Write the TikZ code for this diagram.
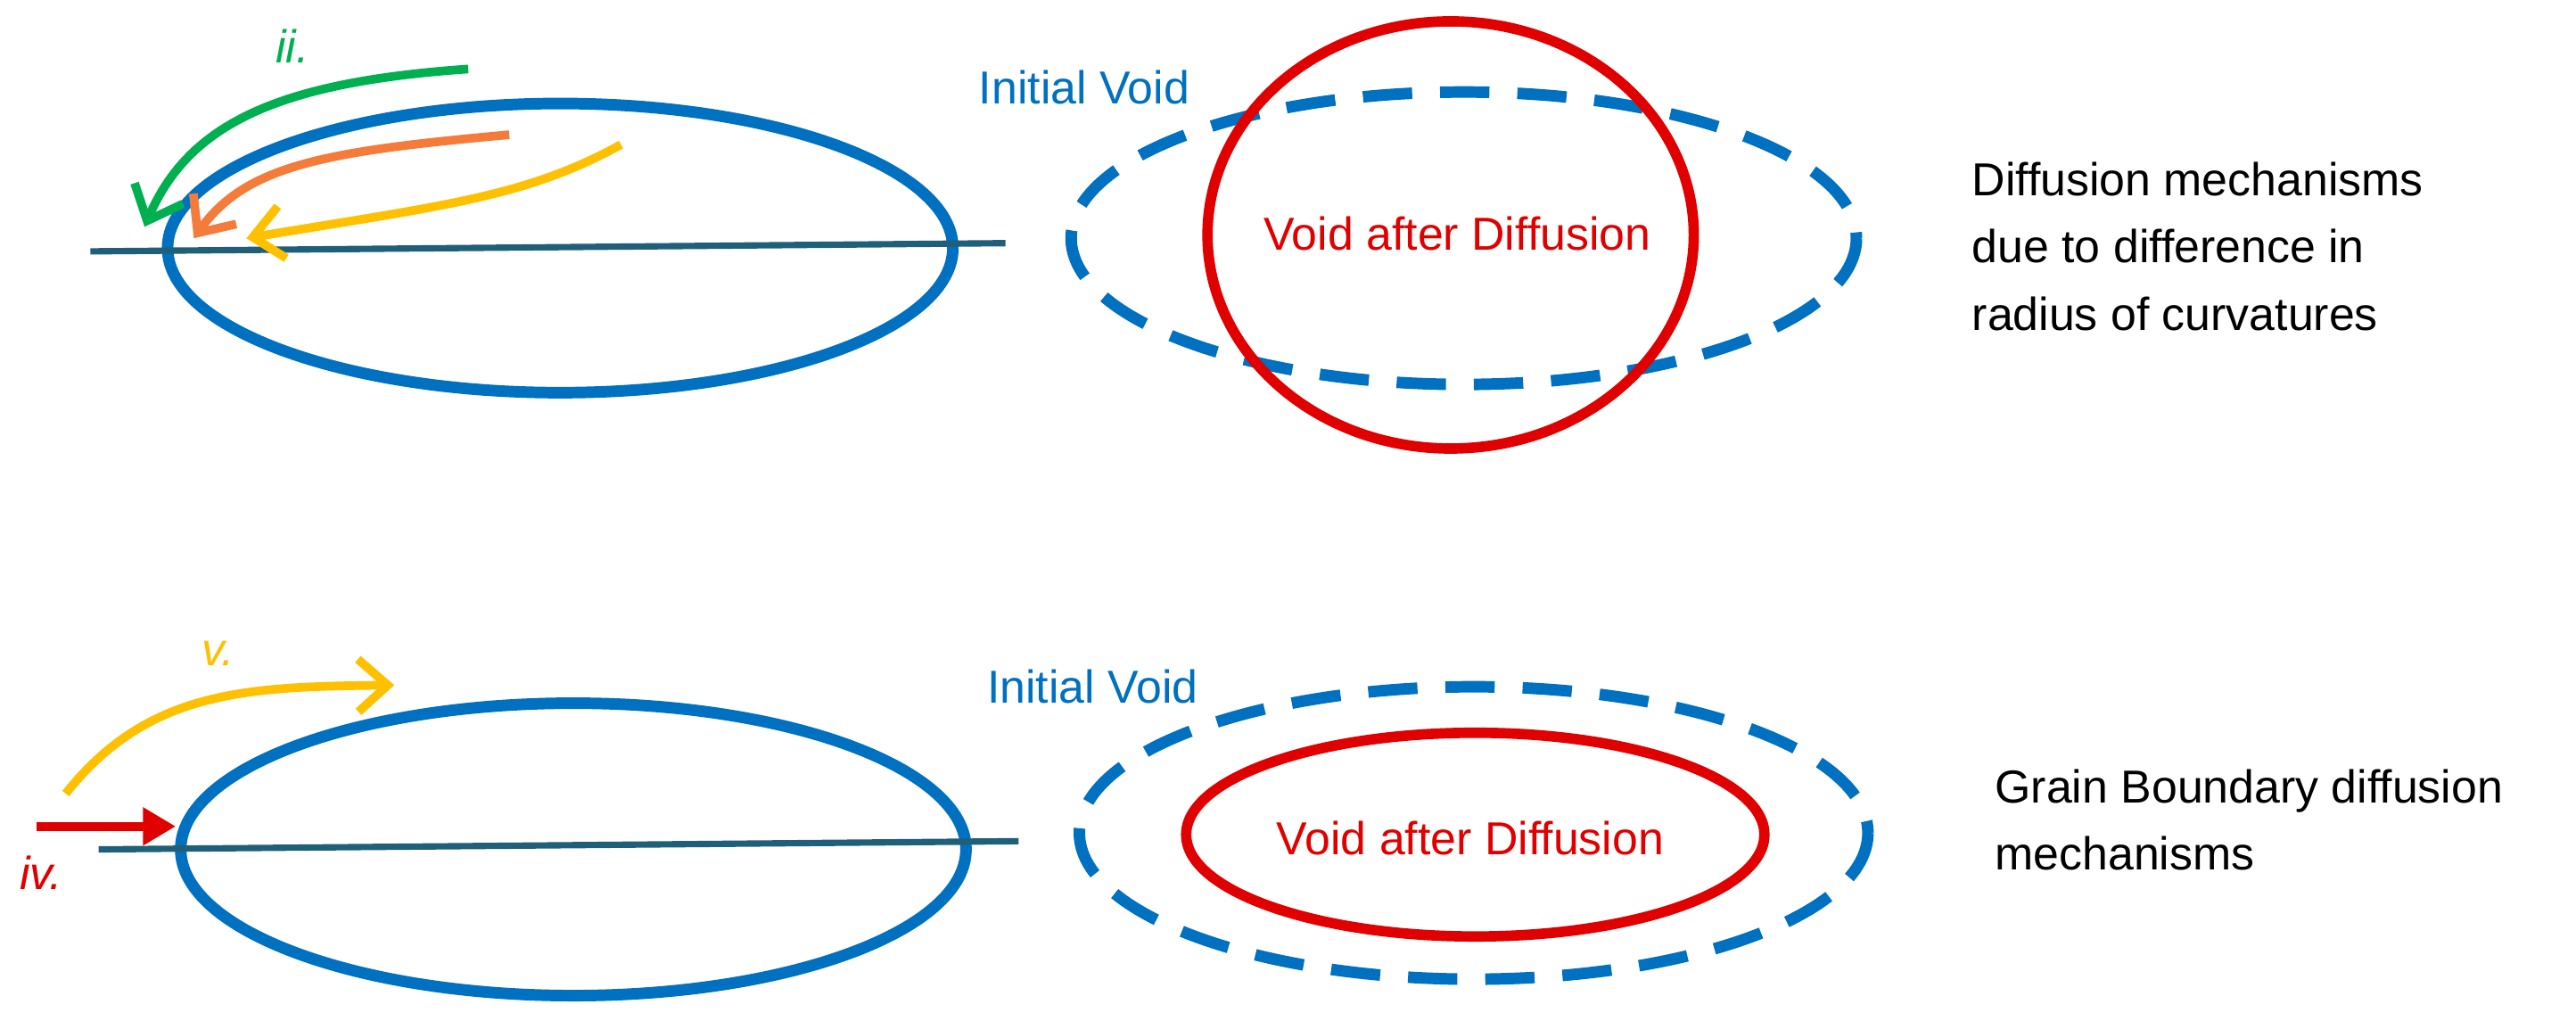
\documentclass[tikz,border=0pt]{standalone}
\usepackage{fontspec}
\setmainfont{Liberation Sans}
\usetikzlibrary{arrows.meta}
\definecolor{voidblue}{HTML}{0070C0}
\definecolor{gbteal}{HTML}{1F5F7A}
\definecolor{voidred}{HTML}{E00000}
\definecolor{mgreen}{HTML}{00B050}
\definecolor{morange}{HTML}{F47B3A}
\definecolor{myellow}{HTML}{FFC000}
\tikzset{
  void/.style={voidblue, line width=2pt},
  initvoid/.style={voidblue, line width=2pt, dash pattern=on 0.3cm off 0.17cm},
  gb/.style={gbteal, line width=1.1pt},
  flow/.style={line width=1.5pt, -{Straight Barb[length=1.8mm, width=3.2mm]}},
  lbl/.style={font=\fontsize{8}{9.6}\selectfont}
}
\begin{document}
\begin{tikzpicture}[x=0.01cm, y=-0.01cm]
\useasboundingbox (0,0) rectangle (1568,621);

% top row
\draw[void] (341,151) ellipse [x radius=239, y radius=88];
\draw[gb] (55,153) -- (612,148);
\draw[initvoid] (891,145) ellipse [x radius=239, y radius=89];
\draw[voidred, line width=1.8pt] (883,143) ellipse [x radius=148, y radius=130];

\node[lbl, voidblue] (iv1) at (660,53) {Initial Void};
\node[lbl, voidred] (vd1) at (887,142) {Void after Diffusion};
\node[lbl, mgreen, font=\fontsize{8}{9.6}\selectfont\itshape] (ii) at (178,28) {ii.};
\node[lbl, anchor=west, align=left] (t1) at (1188,150) {Diffusion mechanisms\\[2pt]due to difference in\\[2pt]radius of curvatures};

\coordinate (g0) at (285,42);  \coordinate (g1) at (88,138);
\coordinate (o0) at (310,82);  \coordinate (o1) at (118,145);
\coordinate (y0) at (378,88);  \coordinate (y1) at (150,145);
\draw[flow, mgreen] (g0) .. controls (170,50) and (115,75) .. (g1);
\draw[flow, morange] (o0) .. controls (200,92) and (150,100) .. (o1);
\draw[flow, myellow] (y0) .. controls (320,120) and (270,125) .. (y1);

% bottom row
\draw[void] (349,517) ellipse [x radius=239, y radius=89];
\draw[gb] (60,517) -- (620,512);
\draw[initvoid] (897,507) ellipse [x radius=240, y radius=89];
\draw[voidred, line width=1.8pt] (898,508) ellipse [x radius=176, y radius=62];

\node[lbl, voidblue] (iv2) at (665,418) {Initial Void};
\node[lbl, voidred] (vd2) at (895,510) {Void after Diffusion};
\node[lbl, myellow, font=\fontsize{8}{9.6}\selectfont\itshape] (v) at (133,398) {v.};
\node[lbl, voidred, font=\fontsize{8}{9.6}\selectfont\itshape] (ivl) at (25,531) {iv.};
\node[lbl, anchor=west, align=left] (t2) at (1202,499) {Grain Boundary diffusion\\[2pt]mechanisms};

\coordinate (b0) at (40,483);  \coordinate (b1) at (240,417);
\coordinate (r0) at (22,503);  \coordinate (r1) at (107,503);
\draw[flow, myellow] (b0) .. controls (90,420) and (150,418) .. (b1);
\draw[voidred, line width=1.5pt, -{Triangle[length=2mm, width=2.2mm]}] (r0) -- (r1);

\end{tikzpicture}
\end{document}
